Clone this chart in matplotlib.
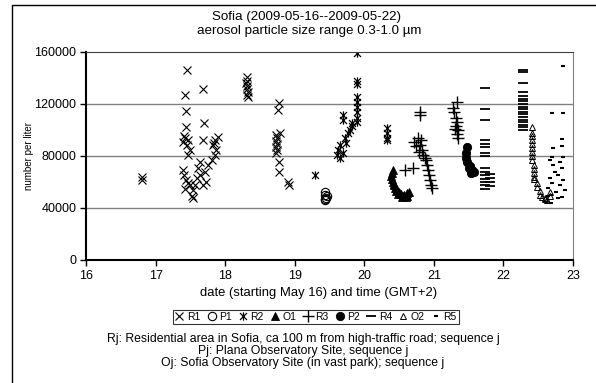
import matplotlib
matplotlib.use("Agg")
import matplotlib.pyplot as plt
from matplotlib.patches import Rectangle
from matplotlib.path import Path

plt.rcParams['font.family'] = ['Liberation Sans', 'DejaVu Sans']

# ---------------- data ----------------
r1_x = [16.80, 16.80,
        17.45, 17.42, 17.44, 17.44, 17.41, 17.42, 17.47, 17.39, 17.45, 17.49, 17.47,
        17.39, 17.41, 17.44, 17.47, 17.42, 17.49, 17.54, 17.52, 17.54, 17.57, 17.60,
        17.64, 17.68, 17.72, 17.71, 17.61, 17.64, 17.75, 17.81, 17.85, 17.87, 17.83,
        17.85, 17.90, 17.84, 17.68, 17.70, 17.68,
        18.31, 18.32, 18.30, 18.32, 18.31, 18.33, 18.31, 18.33,
        18.77, 18.76, 18.79, 18.73, 18.75, 18.73, 18.75, 18.73, 18.75, 18.73,
        18.77, 18.77, 18.92, 18.90]
r1_y = [63800, 61500,
        146000, 127000, 114600, 102000, 95000, 94000, 92000, 91000, 88500, 84600, 80800,
        69000, 65000, 61500, 59000, 55000, 57700, 54000, 49000, 47700, 57700, 63000,
        65000, 57700, 60000, 67700, 70800, 75400, 73000, 77000, 80800, 84600, 88500,
        92300, 94600, 90000, 131500, 105000, 92300,
        141000, 138000, 136000, 134000, 131500, 129000, 127000, 125000,
        121000, 115000, 98000, 96000, 94000, 91500, 89000, 87000, 84600, 82000,
        75000, 68000, 58000, 60000]

p1_x = [19.43, 19.44, 19.45, 19.43, 19.46, 19.44]
p1_y = [52000, 50000, 48000, 47000, 49000, 46000]

r2_x = [19.29,
        19.90, 19.90, 19.90, 19.90, 19.90, 19.90, 19.90, 19.90, 19.90, 19.82, 19.82,
        19.69, 19.69, 19.77, 19.72, 19.65, 19.62, 19.61, 19.65, 19.69, 19.74, 19.79,
        20.32, 20.32, 20.32, 20.32]
r2_y = [65000,
        159000, 138000, 135000, 125000, 121500, 117700, 114000, 109000, 106000, 105000, 103000,
        111500, 107700, 97700, 94000, 88500, 84600, 80800, 78500, 82000, 90000, 100000,
        101500, 97700, 94000, 92300]

o1_x = [20.41, 20.40, 20.38, 20.40, 20.41, 20.43, 20.44, 20.47, 20.50, 20.53, 20.57,
        20.61, 20.64, 20.60, 20.54, 20.48, 20.45, 20.42, 20.56, 20.62]
o1_y = [69000, 67000, 64600, 62300, 60000, 57700, 55400, 53800, 52300, 50800, 50000,
        51500, 52300, 48500, 48500, 51000, 53000, 58500, 49000, 49500]

r3_x = [20.80, 20.80, 20.71, 20.77, 20.74, 20.80, 20.83, 20.70, 20.59, 20.85, 20.89,
        20.90, 20.92, 20.93, 20.94, 20.96, 20.97, 20.82, 20.79, 20.87,
        21.33, 21.28, 21.29, 21.32, 21.33, 21.32, 21.35, 21.33, 21.35, 21.31]
r3_y = [114000, 111500, 91000, 94000, 88000, 88500, 84600, 71000, 69000, 80800, 77000,
        73000, 69200, 65400, 61500, 57700, 55400, 92300, 83000, 78500,
        121500, 117000, 114000, 109000, 106000, 103000, 100000, 97000, 94000, 101000]

p2_x = [21.48, 21.46, 21.46, 21.48, 21.52, 21.55, 21.58, 21.53, 21.50]
p2_y = [87000, 82000, 78500, 75400, 72300, 69200, 67700, 67000, 71000]

r4_x = [21.74] * 15 + [21.81] * 4 + [22.28] * 18
r4_y = [132000, 116000, 108000, 92000, 89000, 87000, 82000, 80000, 71000, 68000,
        65000, 62000, 60000, 58000, 55000,
        66000, 63000, 60000, 57000,
        146000, 144500, 136000, 129000, 126000, 124000, 122000, 120000, 118000,
        116000, 114000, 112000, 110000, 108000, 106000, 104000, 102000, 100000]

o2_x = [22.41, 22.41, 22.41, 22.41, 22.41, 22.41, 22.41, 22.41, 22.41,
        22.44, 22.44, 22.44, 22.44, 22.44, 22.48, 22.48, 22.53, 22.53,
        22.60, 22.60, 22.67, 22.67, 22.56, 22.63]
o2_y = [102000, 98000, 95000, 92000, 89000, 86000, 83000, 80000, 77000,
        73000, 70000, 67000, 64000, 62000, 59000, 56000, 53000, 50000,
        48000, 47000, 49000, 52000, 48500, 46000]

r5_x = [22.86, 22.70, 22.86, 22.84, 22.84, 22.71, 22.70, 22.86, 22.67, 22.81, 22.71,
        22.84, 22.74, 22.78, 22.67, 22.86, 22.70, 22.81, 22.64, 22.88, 22.75, 22.68,
        22.84, 22.68, 22.78, 22.64]
r5_y = [149000, 113000, 113000, 93000, 88000, 86000, 79000, 79000, 77000, 75000, 73000,
        71000, 68000, 65000, 63000, 61500, 59000, 57700, 55400, 54000, 52300, 50000,
        48500, 44000, 47700, 49000]

x_ticks = [16, 17, 18, 19, 20, 21, 22, 23]
y_ticks = [0, 40000, 80000, 120000, 160000]

# ---------------- markers ----------------
star_path = Path([(-1, -1), (1, 1), (-1, 1), (1, -1), (0, -1.2), (0, 1.2)],
                 [Path.MOVETO, Path.LINETO, Path.MOVETO, Path.LINETO, Path.MOVETO, Path.LINETO])
long_dash = Path([(-1, 0), (1, 0)], [Path.MOVETO, Path.LINETO])

series = [
    ("R1", r1_x, r1_y, dict(marker='x', ms=6, mew=0.8, mec='black', mfc='none')),
    ("P1", p1_x, p1_y, dict(marker='o', ms=6, mew=0.8, mec='black', mfc='none')),
    ("R2", r2_x, r2_y, dict(marker=star_path, ms=6, mew=0.9, mec='black', mfc='none')),
    ("O1", o1_x, o1_y, dict(marker='^', ms=5.5, mew=0.6, mec='black', mfc='black')),
    ("R3", r3_x, r3_y, dict(marker='+', ms=8, mew=1.0, mec='black', mfc='none')),
    ("P2", p2_x, p2_y, dict(marker='o', ms=6, mew=0.6, mec='black', mfc='black')),
    ("R4", r4_x, r4_y, dict(marker=long_dash, ms=6.5, mew=1.3, mec='black', mfc='none')),
    ("O2", o2_x, o2_y, dict(marker='^', ms=5, mew=0.7, mec='black', mfc='none')),
    ("R5", r5_x, r5_y, dict(marker=long_dash, ms=3.5, mew=1.5, mec='black', mfc='none')),
]

fig = plt.figure(figsize=(5.96, 3.83), dpi=100)
W, H = 596, 383

# outer frame
fig.patches.append(Rectangle((12 / W, -0.05), 1.1, 1 - 5 / H + 0.05, transform=fig.transFigure,
                             fill=False, edgecolor='black', linewidth=1.0))

ax = fig.add_axes([86 / W, 1 - 260 / H, (573 - 86) / W, (260 - 52) / H])
for name, xs, ys, st in series:
    ax.plot(xs, ys, linestyle='none', label=name, **st)

ax.set_xlim(16, 23)
ax.set_ylim(0, 160000)
ax.set_xticks(x_ticks)
ax.set_yticks(y_ticks)
ax.set_xticklabels([str(t) for t in x_ticks], fontsize=9)
ax.set_yticklabels([str(t) for t in y_ticks], fontsize=9)
ax.tick_params(direction='out', length=4, width=1, pad=3)
for t in [40000, 80000, 120000]:
    ax.axhline(t, color='#808080', linewidth=1.0, zorder=0)
ax.spines['left'].set_linewidth(1.5)
ax.spines['bottom'].set_linewidth(1.5)
ax.spines['top'].set_color('#404040')
ax.spines['right'].set_color('#808080')

fig.text(307 / W, 1 - 17 / H, "Sofia (2009-05-16--2009-05-22)", ha='center', va='center', fontsize=9.6)
fig.text(309 / W, 1 - 31 / H, "aerosol particle size range 0.3-1.0 µm", ha='center', va='center', fontsize=9.6)
fig.text(29 / W, 1 - 156 / H, "number per liter", rotation=90, ha='center', va='center', fontsize=7)
fig.text(319 / W, 1 - 293 / H, "date (starting May 16) and time (GMT+2)", ha='center', va='center', fontsize=9.4)

leg = fig.legend(loc='center', bbox_to_anchor=(316 / W, 1 - 317 / H), ncol=9, fontsize=7.5,
                 frameon=True, fancybox=False, edgecolor='black', handlelength=0.8,
                 handletextpad=0.3, columnspacing=0.7, borderpad=0.2, borderaxespad=0)
leg.get_frame().set_linewidth(0.8)

fig.text(303 / W, 1 - 351 / H,
         "Rj: Residential area in Sofia, ca 100 m from high-traffic road; sequence j\n"
         "Pj: Plana Observatory Site, sequence j\n"
         "Oj: Sofia Observatory Site (in vast park); sequence j",
         ha='center', va='center', fontsize=8.8, linespacing=1.02)

fig.savefig("out.png", dpi=100)
